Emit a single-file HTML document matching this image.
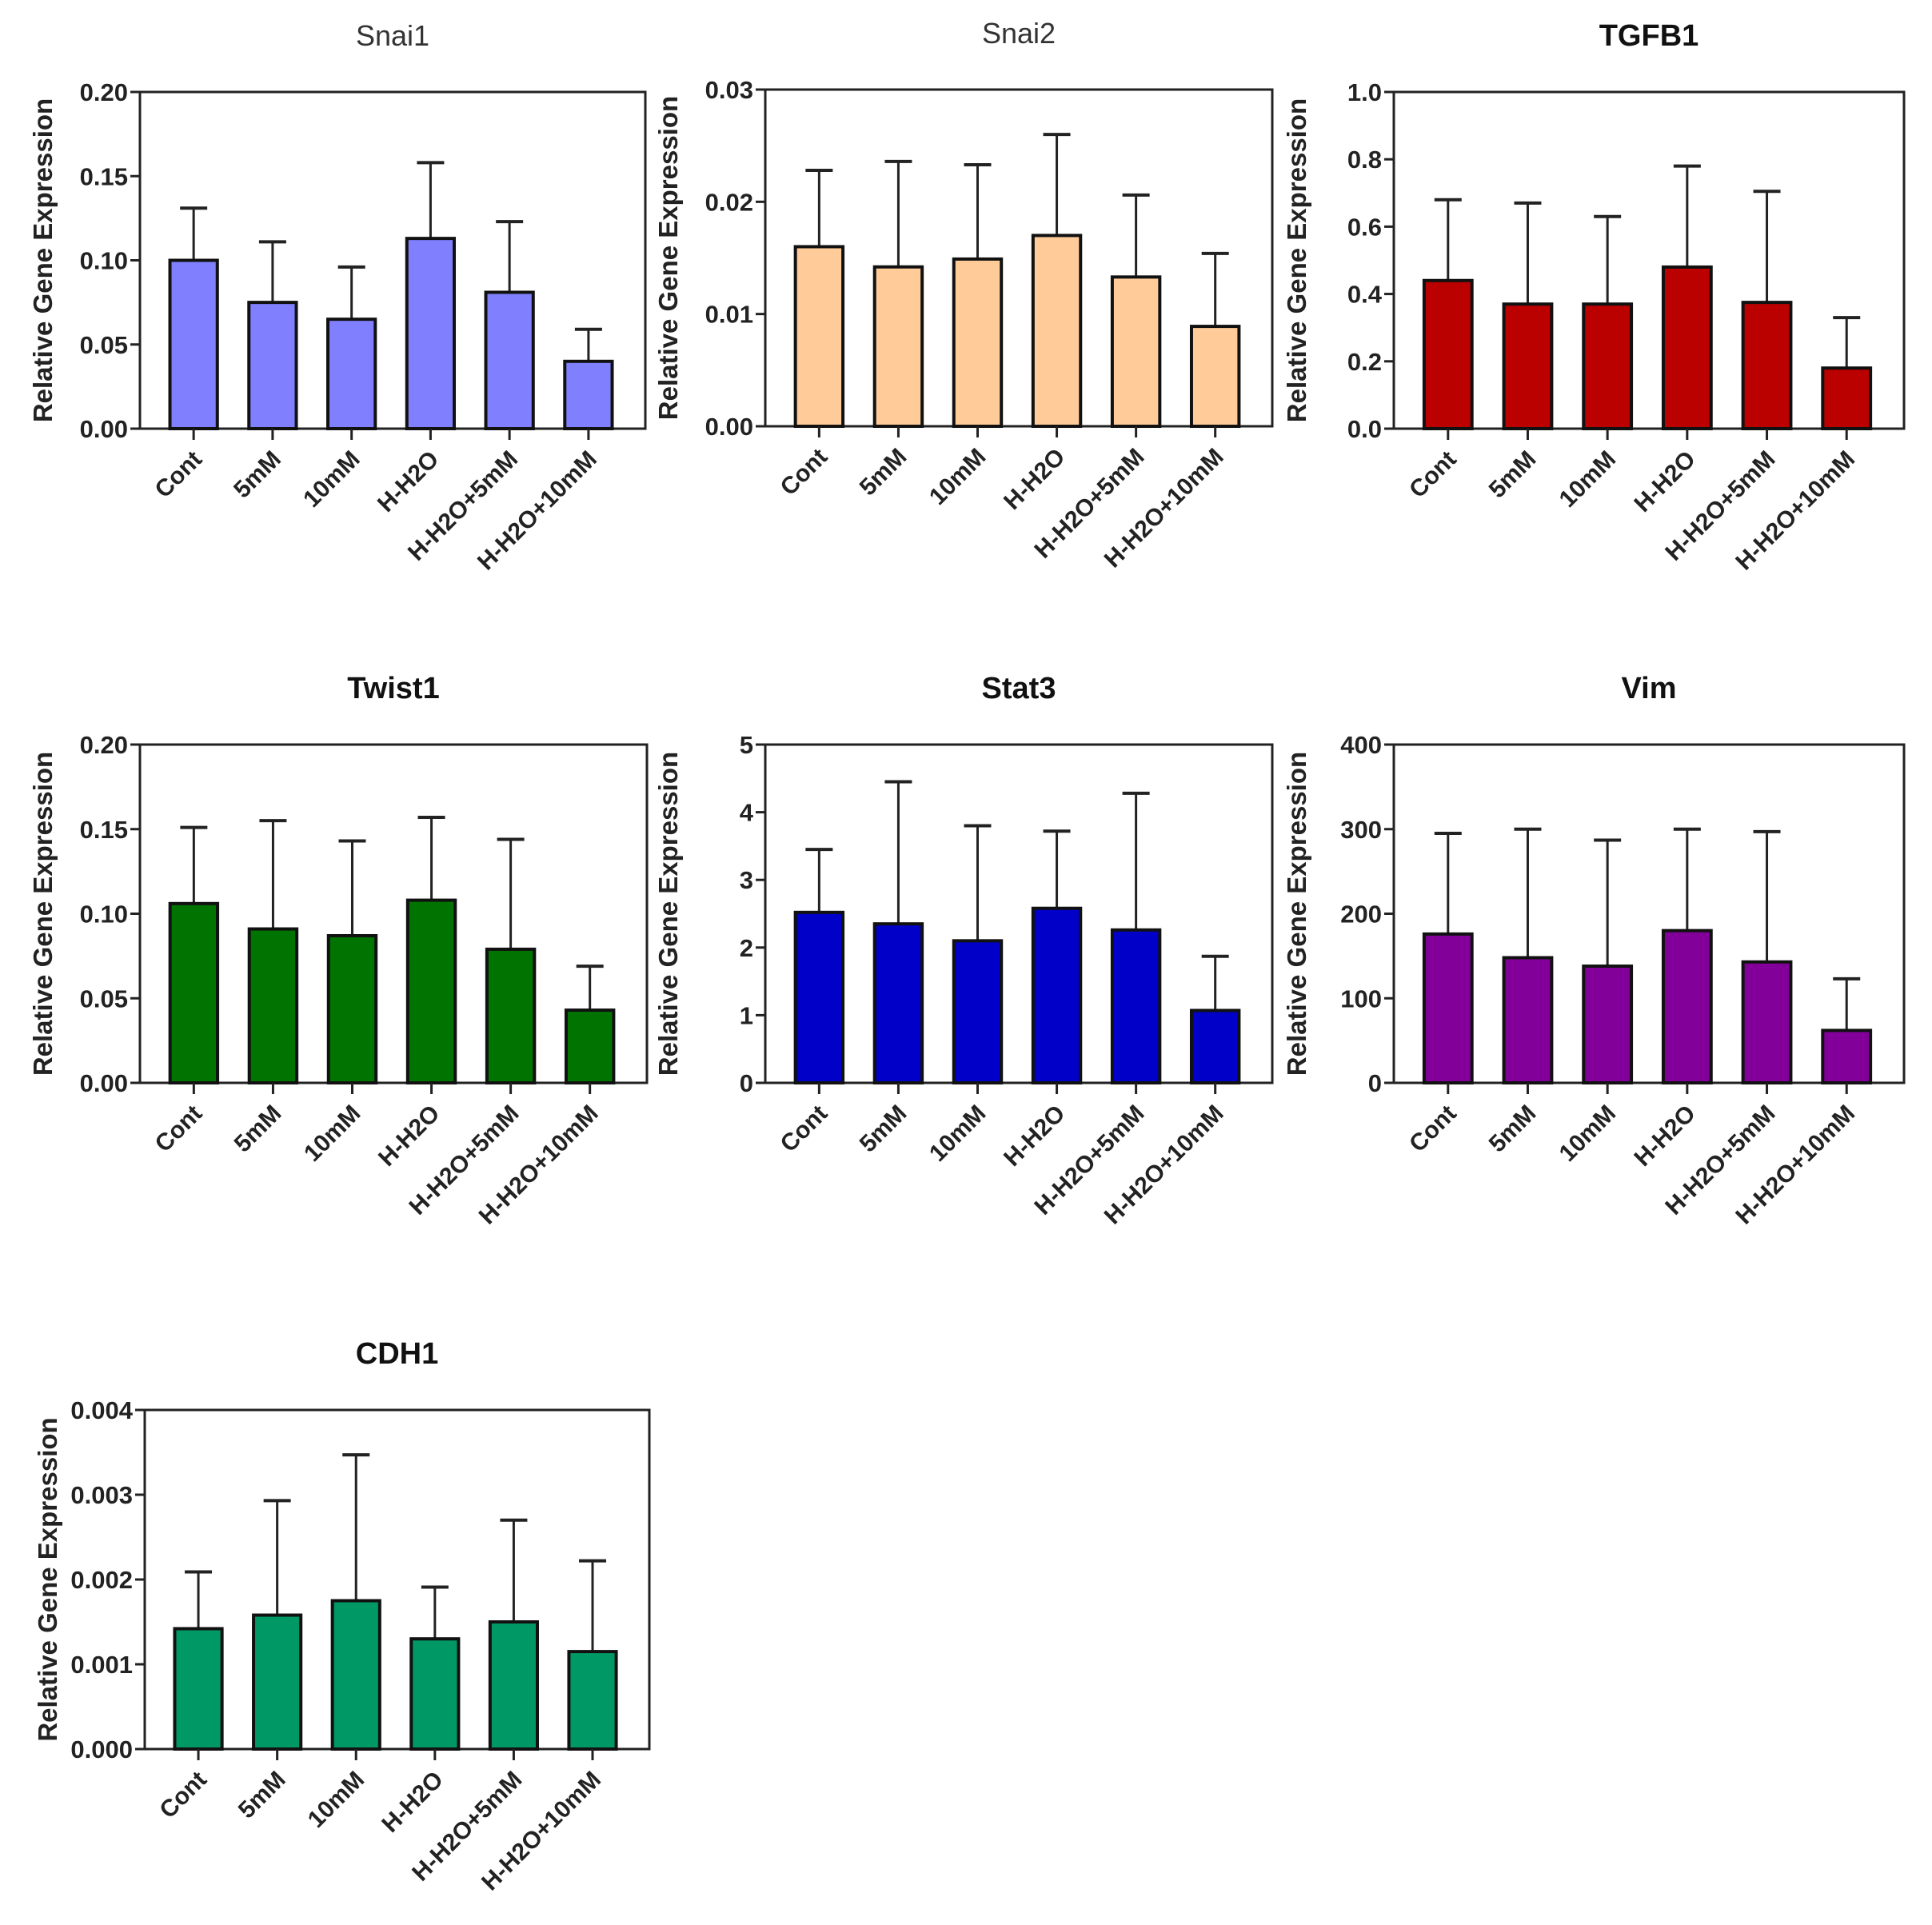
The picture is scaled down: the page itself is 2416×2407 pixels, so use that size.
<!DOCTYPE html>
<html><head><meta charset="utf-8">
<style>
html,body{margin:0;padding:0;background:#fff;}
svg text{font-family:"Liberation Sans",Arial,sans-serif;}
</style></head>
<body>
<svg id="fig" width="2416" height="2402" viewBox="0 0 2416 2402" xmlns="http://www.w3.org/2000/svg"></svg>
<script>
const categories = ["Cont","5mM","10mM","H-H2O","H-H2O+5mM","H-H2O+10mM"];
const snai1Means = [0.100,0.075,0.065,0.113,0.081,0.040];
const snai1Err = [0.131,0.111,0.096,0.158,0.123,0.059];
const snai2Means = [0.0160,0.0142,0.0149,0.0170,0.0133,0.0089];
const snai2Err = [0.0228,0.0236,0.0233,0.0260,0.0206,0.0154];
const tgfb1Means = [0.44,0.37,0.37,0.48,0.375,0.18];
const tgfb1Err = [0.68,0.67,0.63,0.78,0.705,0.33];
const twist1Means = [0.106,0.091,0.087,0.108,0.079,0.043];
const twist1Err = [0.151,0.155,0.143,0.157,0.144,0.069];
const stat3Means = [2.52,2.35,2.10,2.58,2.26,1.07];
const stat3Err = [3.45,4.45,3.80,3.72,4.28,1.87];
const vimMeans = [176,148,138,180,143,62];
const vimErr = [295,300,287,300,297,123];
const cdh1Means = [0.00142,0.00158,0.00175,0.00130,0.00150,0.00115];
const cdh1Err = [0.00209,0.00293,0.00347,0.00191,0.00270,0.00222];
const snai1Ticks = ["0.00","0.05","0.10","0.15","0.20"];
const snai2Ticks = ["0.00","0.01","0.02","0.03"];
const tgfb1Ticks = ["0.0","0.2","0.4","0.6","0.8","1.0"];
const twist1Ticks = ["0.00","0.05","0.10","0.15","0.20"];
const stat3Ticks = ["0","1","2","3","4","5"];
const vimTicks = ["0","100","200","300","400"];
const cdh1Ticks = ["0.000","0.001","0.002","0.003","0.004"];

const NS="http://www.w3.org/2000/svg";
const svg=document.getElementById('fig');
function mk(tag,attrs,parent){const e=document.createElementNS(NS,tag);for(const k in attrs)e.setAttribute(k,attrs[k]);(parent||svg).appendChild(e);return e;}

const panels=[
 {name:"snai1",title:"Snai1",bold:false,means:snai1Means,err:snai1Err,ticks:snai1Ticks,color:"#8080ff",x0:175,x1:807,y0:115,y1:536},
 {name:"snai2",title:"Snai2",bold:false,means:snai2Means,err:snai2Err,ticks:snai2Ticks,color:"#ffcc99",x0:957,x1:1591,y0:112,y1:533},
 {name:"tgfb1",title:"TGFB1",bold:true,means:tgfb1Means,err:tgfb1Err,ticks:tgfb1Ticks,color:"#bb0000",x0:1743,x1:2381,y0:115,y1:536},
 {name:"twist1",title:"Twist1",bold:true,means:twist1Means,err:twist1Err,ticks:twist1Ticks,color:"#007300",x0:175,x1:809,y0:931,y1:1354},
 {name:"stat3",title:"Stat3",bold:true,means:stat3Means,err:stat3Err,ticks:stat3Ticks,color:"#0000c8",x0:957,x1:1591,y0:931,y1:1354},
 {name:"vim",title:"Vim",bold:true,means:vimMeans,err:vimErr,ticks:vimTicks,color:"#820099",x0:1743,x1:2381,y0:931,y1:1354},
 {name:"cdh1",title:"CDH1",bold:true,means:cdh1Means,err:cdh1Err,ticks:cdh1Ticks,color:"#009966",x0:181,x1:812,y0:1763,y1:2187}
];

panels.forEach(p=>{
  const g=mk('g',{});
  
  
  const ymax=parseFloat(p.ticks[p.ticks.length-1]);
  const yS=v=>p.y1-(v/ymax)*(p.y1-p.y0);
  const step=(p.x1-p.x0)/6.4;
  const xS=i=>p.x0+step*(0.68+i);
  const bw=step*0.6;
  const t=mk('text',{x:(p.x0+p.x1)/2,y:p.y0-58,'text-anchor':'middle','font-size':p.bold?38:36,'font-weight':p.bold?'bold':'normal',fill:p.bold?'#111':'#333'},g);
  t.textContent=p.title;
  
  
  const cy=(p.y0+p.y1)/2, tx=p.x0-110;
  const yt=mk('text',{x:tx,y:cy,'text-anchor':'middle','font-size':33,'font-weight':'bold',fill:'#222',transform:`rotate(-90 ${tx} ${cy})`},g);
  yt.textContent="Relative Gene Expression";
  
  
  const fr=mk('rect',{x:p.x0,y:p.y0,width:p.x1-p.x0,height:p.y1-p.y0,fill:'none',stroke:'#222','stroke-width':3},g);
  
  
  p.ticks.forEach(tk=>{
    const y=yS(parseFloat(tk));
    mk('line',{x1:p.x0-12,x2:p.x0,y1:y,y2:y,stroke:'#222','stroke-width':3},g);
    const tl=mk('text',{x:p.x0-15,y:y+11,'text-anchor':'end','font-size':31,'font-weight':'bold',fill:'#222'},g);
    tl.textContent=tk;
    
    
  });
  p.means.forEach((m,i)=>{
    const cx=xS(i);
    const e=mk('line',{x1:cx,x2:cx,y1:yS(p.err[i]),y2:yS(m),stroke:'#222','stroke-width':3},g);
    
    
    mk('line',{x1:cx-17,x2:cx+17,y1:yS(p.err[i]),y2:yS(p.err[i]),stroke:'#222','stroke-width':4},g);
    const b=mk('rect',{x:cx-bw/2,y:yS(m),width:bw,height:p.y1-yS(m),fill:p.color,stroke:'#111','stroke-width':4},g);
    
    
    mk('line',{x1:cx,x2:cx,y1:p.y1,y2:p.y1+14,stroke:'#222','stroke-width':3},g);
    const lx=cx+12, ly=p.y1+40;
    const xl=mk('text',{x:lx,y:ly,'text-anchor':'end','font-size':30,'font-weight':'bold',fill:'#222',transform:`rotate(-45 ${lx} ${ly})`},g);
    xl.textContent=categories[i];
    
    
  });
});
</script>
</body></html>
